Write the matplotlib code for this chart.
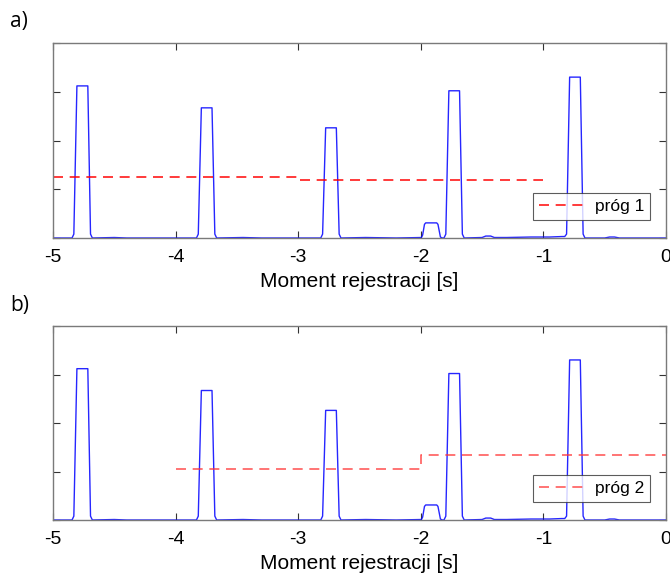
import numpy as np
import matplotlib
matplotlib.use('Agg')
import matplotlib.pyplot as plt

## Sygnal (odczytane wierzcholki lamanej) [s], [-]
t_sig = [-5.00, -4.90, -4.845, -4.830, -4.805, -4.716, -4.694, -4.679,
         -4.50, -4.40, -3.830, -3.815, -3.790, -3.703, -3.680, -3.665,
         -3.45, -3.30, -2.816, -2.801, -2.776, -2.689, -2.666, -2.651,
         -2.45, -2.20, -1.995, -1.985, -1.970, -1.960, -1.870, -1.860, -1.840, -1.825,
         -1.811, -1.796, -1.771, -1.684, -1.661, -1.646,
         -1.50, -1.47, -1.43, -1.40, -1.30, -1.10, -0.95, -0.85, -0.826, -0.811,
         -0.786, -0.699, -0.676, -0.661,
         -0.50, -0.46, -0.42, -0.38, -0.20, 0.00]
y_sig = [0.00, 0.00, 0.00, 0.08, 3.12, 3.12, 0.08, 0.00,
         0.01, 0.00, 0.00, 0.08, 2.67, 2.67, 0.08, 0.00,
         0.01, 0.00, 0.00, 0.08, 2.26, 2.26, 0.08, 0.00,
         0.01, 0.00, 0.01, 0.06, 0.28, 0.31, 0.31, 0.28, 0.02, 0.00,
         0.00, 0.08, 3.02, 3.02, 0.08, 0.00,
         0.01, 0.04, 0.04, 0.01, 0.01, 0.02, 0.02, 0.03, 0.03, 0.08,
         3.30, 3.30, 0.08, 0.00,
         0.00, 0.02, 0.02, 0.00, 0.00, 0.00]

## Prog 1
t_p1 = [-5.0, -3.0, -3.0, -1.0]
y_p1 = [1.245, 1.245, 1.20, 1.20]

## Prog 2
t_p2 = [-4.0, -2.0, -2.0, 0.0]
y_p2 = [1.06, 1.06, 1.33, 1.33]

xticks = [-5, -4, -3, -2, -1, 0]
yticks = [0, 1, 2, 3, 4]

plt.rcParams['font.family'] = ['Liberation Sans', 'DejaVu Sans']

fig = plt.figure(figsize=(6.7, 5.75), dpi=100)
ax1 = fig.add_axes([53/670, 1-238/575, 613/670, 195/575])
ax2 = fig.add_axes([53/670, 1-520/575, 613/670, 194/575])

panels = [(ax1, t_p1, y_p1, 'próg 1', '#ff0000', 0.9, 'a)', 22),
          (ax2, t_p2, y_p2, 'próg 2', '#ff3333', 0.8, 'b)', 305)]

for ax, tp, yp, lab, col, al, letter, ly in panels:
    ax.plot(t_sig, y_sig, color='#0000ff', lw=1.0, alpha=0.85)
    h, = ax.plot(tp, yp, color=col, lw=1.2, alpha=al, dashes=(6, 4), label=lab)
    ax.set_xlim(-5, 0)
    ax.set_ylim(0, 4)
    ax.set_xticks(xticks)
    ax.set_xticklabels(['%d' % v for v in xticks])
    ax.set_yticks(yticks)
    ax.set_yticklabels([])
    ax.tick_params(direction='in', length=5, width=0.8, color='#333333',
                   top=True, right=True, labelsize=14, pad=8)
    for s in ax.spines.values():
        s.set_color('#7a7a7a')
        s.set_linewidth(1.0)
    ax.set_xlabel('Moment rejestracji [s]', fontsize=15, labelpad=4)
    leg = ax.legend(handles=[h], loc='lower right', bbox_to_anchor=(0.974, 0.092),
                    fontsize=12.5, frameon=True, fancybox=False, handlelength=2.6,
                    borderpad=0.35, handletextpad=0.6, borderaxespad=0)
    leg.get_frame().set_edgecolor('#333333')
    leg.get_frame().set_linewidth(0.8)
    fig.text(10/670, 1-ly/575, letter, fontsize=15, family=['Open Sans', 'DejaVu Sans'],
             va='center', ha='left')

fig.savefig('out.png', dpi=100)
